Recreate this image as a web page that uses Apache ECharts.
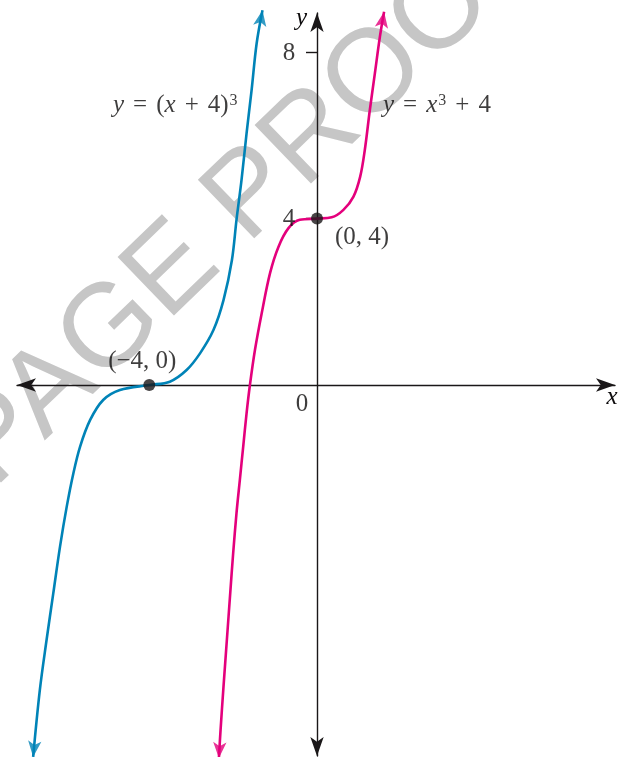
<!DOCTYPE html>
<html>
<head>
<meta charset="utf-8">
<title>Vertical and horizontal shifts of y = x³</title>
<style>
  html, body { margin: 0; padding: 0; background: #ffffff; }
  #chart { width: 619px; height: 757px; }
</style>
<script src="https://cdn.jsdelivr.net/npm/echarts@6/dist/echarts.min.js"></script>
</head>
<body>
<div id="chart"></div>
<script>
// Points sampled along y = (x + 4)^3, from the lower end to the upper end
const cubeShiftedLeft = [
  [-6.77, -8.94], [-6.61, -7.33], [-6.45, -6.13], [-6.29, -5.01], [-6.13, -3.89],
  [-5.97, -2.93], [-5.81, -2.12], [-5.65, -1.48], [-5.41, -0.84], [-5.10, -0.36],
  [-4.70, -0.12], [-4.00, 0.00], [-3.51, 0.08], [-3.11, 0.36], [-2.79, 0.76],
  [-2.47, 1.32], [-2.23, 2.04], [-2.03, 3.00], [-1.92, 3.97], [-1.80, 4.93],
  [-1.68, 6.05], [-1.56, 7.09], [-1.44, 8.21], [-1.30, 9.01]
];

// Points sampled along y = x^3 + 4, from the lower end to the upper end
const cubeShiftedUp = [
  [-2.34, -8.97], [-2.30, -8.29], [-2.23, -7.25], [-2.15, -6.13], [-2.07, -5.01],
  [-2.00, -4.05], [-1.92, -3.08], [-1.84, -2.28], [-1.76, -1.48], [-1.68, -0.68],
  [-1.60, 0.00], [-1.48, 0.84], [-1.32, 1.72], [-1.12, 2.69], [-0.92, 3.32],
  [-0.68, 3.77], [-0.41, 3.97], [0.00, 4.00], [0.35, 4.03], [0.63, 4.21],
  [0.87, 4.53], [1.03, 5.01], [1.14, 5.65], [1.26, 6.61], [1.38, 7.49],
  [1.50, 8.37], [1.60, 8.97]
];

// Highlighted points and their coordinate labels
const markedPoints = [[-4, 0], [0, 4]];
const markedLabels = ['(\u22124, 0)', '(0, 4)'];

// Axis extents and labelled ticks
const xExtent = [-7.155, 7.107];
const yExtent = [-8.918, 8.942];
const yTickValues = [4, 8];
const xTickValues = [0];

const SERIF = '"Liberation Serif", "Times New Roman", serif';
const INK = '#1a1718';
const TEXT = '#0e0c0d';
const BLUE = '#0083b7';
const PINK = '#e4007c';
const FONT_SIZE = 25;

const chart = echarts.init(document.getElementById('chart'), null, { renderer: 'canvas' });

const axisLineStyle = { color: INK, width: 1.4 };

// Tick labels sit beside the axes that pass through the origin
const tickLabelItems = [
  ...yTickValues.map((v) => ({ value: [0, v], label: { formatter: String(v), offset: [-28, 1] } })),
  ...xTickValues.map((v) => ({ value: [v, 0], label: { formatter: String(v), offset: [-15, 19] } }))
];

const option = {
  animation: false,
  backgroundColor: '#ffffff',
  textStyle: { fontFamily: SERIF, color: TEXT },
  grid: { left: 17, right: 4, top: 13, bottom: 1, show: false, containLabel: false, outerBoundsMode: 'none' },
  graphic: [{
    type: 'text',
    z: -5,
    silent: true,
    x: 249,
    y: 198,
    rotation: 44 * Math.PI / 180,
    style: {
      text: 'PAGE PROOF',
      fontFamily: '"Liberation Sans", Arial, sans-serif',
      fontSize: 118,
      fill: '#c6c6c6',
      align: 'center', verticalAlign: 'middle',
      textAlign: 'center', textVerticalAlign: 'middle'
    }
  }],
  xAxis: {
    type: 'value',
    min: xExtent[0], max: xExtent[1],
    name: 'x',
    nameLocation: 'end',
    nameGap: -3,
    nameTextStyle: { fontFamily: SERIF, fontStyle: 'italic', fontSize: FONT_SIZE, color: TEXT, align: 'center', verticalAlign: 'top', lineHeight: 24 },
    splitLine: { show: false },
    axisLine: { onZero: true, lineStyle: axisLineStyle, symbol: ['arrow', 'arrow'], symbolSize: [10, 19] },
    axisTick: { show: false },
    axisLabel: { show: false }
  },
  yAxis: {
    type: 'value',
    min: yExtent[0], max: yExtent[1],
    name: 'y',
    nameLocation: 'end',
    nameGap: -5,
    nameTextStyle: { fontFamily: SERIF, fontStyle: 'italic', fontSize: FONT_SIZE, color: TEXT, align: 'right', verticalAlign: 'middle', padding: [0, 10, 0, 0] },
    splitLine: { show: false },
    axisLine: { onZero: true, lineStyle: axisLineStyle, symbol: ['arrow', 'arrow'], symbolSize: [10, 19] },
    axisTick: { show: true, customValues: yTickValues, length: 11, lineStyle: axisLineStyle },
    axisLabel: { show: false }
  },
  series: [
    {
      id: 'shiftLeft',
      type: 'line',
      data: cubeShiftedLeft,
      smooth: 0.35,
      symbol: 'none',
      clip: false,
      silent: true,
      z: 3,
      lineStyle: { color: BLUE, width: 2.6 }
    },
    {
      id: 'shiftUp',
      type: 'line',
      data: cubeShiftedUp,
      smooth: 0.35,
      symbol: 'none',
      clip: false,
      silent: true,
      z: 3,
      lineStyle: { color: PINK, width: 2.6 }
    },
    {
      id: 'arrowheads',
      type: 'scatter',
      data: [],
      symbol: 'arrow',
      symbolSize: [10, 16],
      clip: false,
      silent: true,
      z: 4
    },
    {
      id: 'points',
      type: 'scatter',
      symbol: 'circle',
      symbolSize: 12,
      clip: false,
      silent: true,
      z: 5,
      itemStyle: { color: INK },
      data: markedPoints.map((p, i) => ({
        value: p,
        label: {
          show: true,
          formatter: markedLabels[i],
          position: 'inside',
          offset: i === 0 ? [-7, -24] : [45, 19],
          fontFamily: SERIF, fontSize: FONT_SIZE, color: TEXT
        }
      }))
    },
    {
      id: 'tickLabels',
      type: 'scatter',
      symbol: 'circle',
      symbolSize: 1,
      clip: false,
      silent: true,
      z: 5,
      itemStyle: { color: 'rgba(0,0,0,0)' },
      label: {
        show: true,
        position: 'inside',
        align: 'center',
        verticalAlign: 'middle',
        fontFamily: SERIF, fontSize: FONT_SIZE, color: TEXT
      },
      data: tickLabelItems
    },
    {
      id: 'equations',
      type: 'scatter',
      symbol: 'circle',
      symbolSize: 1,
      clip: false,
      silent: true,
      z: 5,
      itemStyle: { color: 'rgba(0,0,0,0)' },
      label: {
        show: true,
        position: 'inside',
        align: 'left',
        verticalAlign: 'middle',
        fontFamily: SERIF, fontSize: FONT_SIZE, color: TEXT,
        rich: {
          i: { fontFamily: SERIF, fontSize: FONT_SIZE, fontStyle: 'italic', color: TEXT },
          n: { fontFamily: SERIF, fontSize: FONT_SIZE, color: TEXT },
          o: { fontFamily: SERIF, fontSize: FONT_SIZE, color: TEXT, padding: [0, 9, 0, 9] },
          s: { fontFamily: SERIF, fontSize: 16, color: TEXT, verticalAlign: 'top', padding: [0, 0, 0, 1] }
        }
      },
      data: [
        { value: [-4.865, 6.73], label: { formatter: '{i|y}{o|=}{n|(}{i|x}{o|+}{n|4)}{s|3}' } },
        { value: [1.574, 6.73], label: { formatter: '{i|y}{o|=}{i|x}{s|3}{o|+}{n|4}' } }
      ]
    }
  ]
};

chart.setOption(option);

// Arrowheads at both ends of each curve, aimed along the curve's end direction
function arrowItems() {
  const items = [];
  [[cubeShiftedLeft, BLUE], [cubeShiftedUp, PINK]].forEach(([pts, color]) => {
    const ends = [[0, 1], [pts.length - 1, pts.length - 2]];
    ends.forEach(([tipIdx, backIdx]) => {
      const tip = chart.convertToPixel({ gridIndex: 0 }, pts[tipIdx]);
      const back = chart.convertToPixel({ gridIndex: 0 }, pts[backIdx]);
      const dx = tip[0] - back[0];
      const dy = tip[1] - back[1];
      const len = Math.hypot(dx, dy) || 1;
      const ux = dx / len, uy = dy / len;
      items.push({
        value: pts[tipIdx],
        symbolRotate: Math.atan2(-ux, -uy) * 180 / Math.PI,
        itemStyle: { color }
      });
    });
  });
  return items;
}

chart.setOption({ series: [{ id: 'arrowheads', data: arrowItems() }] });
</script>
</body>
</html>
